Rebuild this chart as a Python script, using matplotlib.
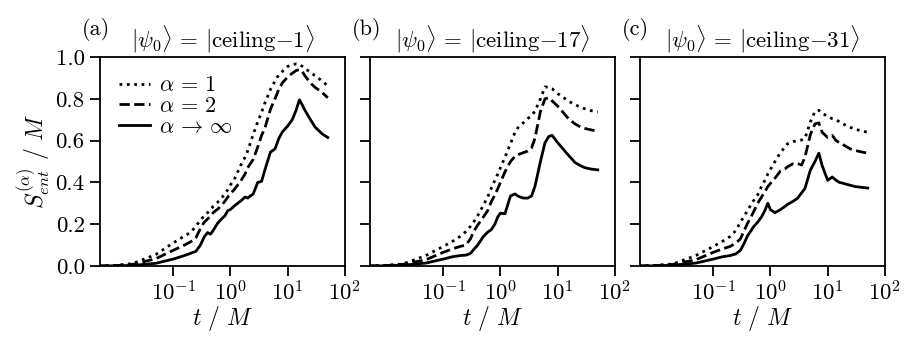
import numpy as np
import matplotlib
matplotlib.use("Agg")
import matplotlib.pyplot as plt
from matplotlib.ticker import NullLocator

plt.rcParams['font.family'] = 'serif'
plt.rcParams['font.serif'] = ['cmr10', 'DejaVu Serif']
plt.rcParams['mathtext.fontset'] = 'cm'
plt.rcParams['axes.unicode_minus'] = False
plt.rcParams['axes.formatter.use_mathtext'] = True

# time grid (t / M)
t = [0.005, 0.01, 0.02, 0.05, 0.1, 0.15, 0.2, 0.25, 0.3, 0.35, 0.4, 0.45, 0.5,
     0.6, 0.7, 0.8, 0.9, 1.0, 1.2, 1.5, 1.8, 2.0, 2.5, 3.0, 3.5, 4.0, 5.0,
     6.0, 7.0, 8.0, 10, 12, 14, 16, 18, 20, 25, 30, 40, 50]

# panel (a): |ceiling-1>
a_alpha1 = [0.0, 0.003, 0.012, 0.055, 0.11, 0.14, 0.16, 0.19, 0.22, 0.24, 0.255, 0.27, 0.285,
            0.305, 0.325, 0.345, 0.365, 0.388, 0.42, 0.48, 0.52, 0.55, 0.63, 0.69, 0.735, 0.78, 0.845,
            0.885, 0.915, 0.93, 0.955, 0.963, 0.967, 0.965, 0.955, 0.945, 0.927, 0.91, 0.885, 0.862]
a_alpha2 = [0.0, 0.002, 0.008, 0.035, 0.075, 0.097, 0.115, 0.135, 0.18, 0.21, 0.225, 0.24, 0.255,
            0.272, 0.29, 0.31, 0.33, 0.345, 0.37, 0.405, 0.44, 0.47, 0.51, 0.57, 0.625, 0.66, 0.75,
            0.80, 0.845, 0.875, 0.905, 0.922, 0.935, 0.94, 0.93, 0.91, 0.875, 0.855, 0.83, 0.805]
a_alphainf = [0.0, 0.001, 0.003, 0.013, 0.033, 0.048, 0.06, 0.07, 0.10, 0.14, 0.16, 0.152, 0.17,
              0.205, 0.225, 0.24, 0.265, 0.27, 0.29, 0.31, 0.33, 0.325, 0.345, 0.40, 0.405, 0.46, 0.545,
              0.56, 0.61, 0.64, 0.67, 0.70, 0.745, 0.795, 0.77, 0.745, 0.70, 0.665, 0.632, 0.615]

# panel (b): |ceiling-17>
b_alpha1 = [0.0, 0.003, 0.01, 0.05, 0.093, 0.12, 0.142, 0.165, 0.19, 0.215, 0.24, 0.265, 0.29,
            0.33, 0.375, 0.41, 0.44, 0.47, 0.52, 0.585, 0.64, 0.66, 0.685, 0.705, 0.72, 0.74, 0.80,
            0.857, 0.855, 0.848, 0.825, 0.81, 0.797, 0.787, 0.778, 0.772, 0.76, 0.752, 0.742, 0.737]
b_alpha2 = [0.0, 0.002, 0.008, 0.03, 0.065, 0.083, 0.094, 0.10, 0.13, 0.17, 0.195, 0.215, 0.233,
            0.265, 0.31, 0.34, 0.37, 0.40, 0.45, 0.50, 0.525, 0.532, 0.542, 0.55, 0.565, 0.61, 0.74,
            0.80, 0.805, 0.79, 0.765, 0.74, 0.718, 0.70, 0.69, 0.68, 0.665, 0.658, 0.65, 0.646]
b_alphainf = [0.0, 0.001, 0.004, 0.014, 0.033, 0.045, 0.05, 0.052, 0.06, 0.082, 0.10, 0.12, 0.14,
              0.162, 0.175, 0.20, 0.235, 0.253, 0.25, 0.335, 0.345, 0.335, 0.325, 0.325, 0.335, 0.38, 0.50,
              0.59, 0.62, 0.625, 0.59, 0.565, 0.543, 0.525, 0.51, 0.495, 0.48, 0.47, 0.463, 0.46]

# panel (c): |ceiling-31>
c_alpha1 = [0.0, 0.003, 0.01, 0.05, 0.093, 0.12, 0.142, 0.17, 0.21, 0.24, 0.265, 0.29, 0.31,
            0.34, 0.38, 0.41, 0.44, 0.462, 0.50, 0.543, 0.57, 0.585, 0.595, 0.60, 0.603, 0.61, 0.69,
            0.74, 0.745, 0.732, 0.715, 0.705, 0.70, 0.69, 0.682, 0.675, 0.663, 0.655, 0.645, 0.64]
c_alpha2 = [0.0, 0.002, 0.008, 0.03, 0.065, 0.083, 0.094, 0.11, 0.13, 0.17, 0.205, 0.23, 0.255,
            0.30, 0.33, 0.355, 0.38, 0.395, 0.42, 0.455, 0.465, 0.475, 0.49, 0.49, 0.483, 0.52, 0.63,
            0.68, 0.685, 0.64, 0.615, 0.625, 0.60, 0.59, 0.583, 0.575, 0.56, 0.553, 0.545, 0.54]
c_alphainf = [0.0, 0.001, 0.004, 0.014, 0.033, 0.045, 0.05, 0.058, 0.075, 0.11, 0.145, 0.165, 0.185,
              0.21, 0.235, 0.265, 0.30, 0.27, 0.255, 0.27, 0.285, 0.295, 0.31, 0.325, 0.35, 0.37, 0.46,
              0.50, 0.54, 0.48, 0.41, 0.426, 0.41, 0.40, 0.397, 0.393, 0.386, 0.38, 0.376, 0.373]

panel_tags = ['(a)', '(b)', '(c)']
panel_titles = [r'$|\psi_0\rangle\,=\,|\mathrm{ceiling}{-}1\rangle$',
                r'$|\psi_0\rangle\,=\,|\mathrm{ceiling}{-}17\rangle$',
                r'$|\psi_0\rangle\,=\,|\mathrm{ceiling}{-}31\rangle$']
series = [(a_alpha1, a_alpha2, a_alphainf),
          (b_alpha1, b_alpha2, b_alphainf),
          (c_alpha1, c_alpha2, c_alphainf)]
labels = [r'$\alpha\,=\,1$', r'$\alpha\,=\,2$', r'$\alpha\,\rightarrow\,\infty$']
styles = [':', '--', '-']
yticks = [0.0, 0.2, 0.4, 0.6, 0.8, 1.0]

fig = plt.figure(figsize=(9.14, 3.47), dpi=100)
lefts = [100 / 914, 370 / 914, 640 / 914]
bottom = 81 / 347
height = 209 / 347
width = 245 / 914

for i in range(3):
    ax = fig.add_axes([lefts[i], bottom, width, height])
    for ys, ls, lab in zip(series[i], styles, labels):
        ax.plot(t, ys, ls, color='black', lw=2.0, label=lab)
    ax.set_xscale('log')
    ax.set_xlim(0.0053, 100)
    ax.set_ylim(0, 1.0)
    ax.set_xticks([0.1, 1, 10, 100])
    ax.xaxis.set_minor_locator(NullLocator())
    ax.set_yticks(yticks)
    ax.tick_params(direction='out', length=7, width=1.3, labelsize=16.5, pad=4)
    ax.tick_params(axis='x', pad=3)
    for sp in ax.spines.values():
        sp.set_linewidth(1.3)
    if i == 0:
        ax.set_yticklabels([f'{v:.1f}' for v in yticks])
        ax.set_ylabel(r'$S^{(\alpha)}_{ent}\ /\ M$', fontsize=17, labelpad=2)
        ax.legend(loc='upper left', frameon=False, fontsize=16, handlelength=1.4,
                  labelspacing=0.05, borderaxespad=0.45, handletextpad=0.4)
    else:
        ax.set_yticklabels([])
    ax.set_xlabel(r'$t\ /\ M$', fontsize=17, labelpad=0)
    ax.set_title(panel_titles[i], fontsize=16.5, pad=7)
    ax.text(-0.075, 1.185, panel_tags[i], transform=ax.transAxes, ha='left', va='top',
            fontsize=16)

fig.savefig('out.png', dpi=100)
